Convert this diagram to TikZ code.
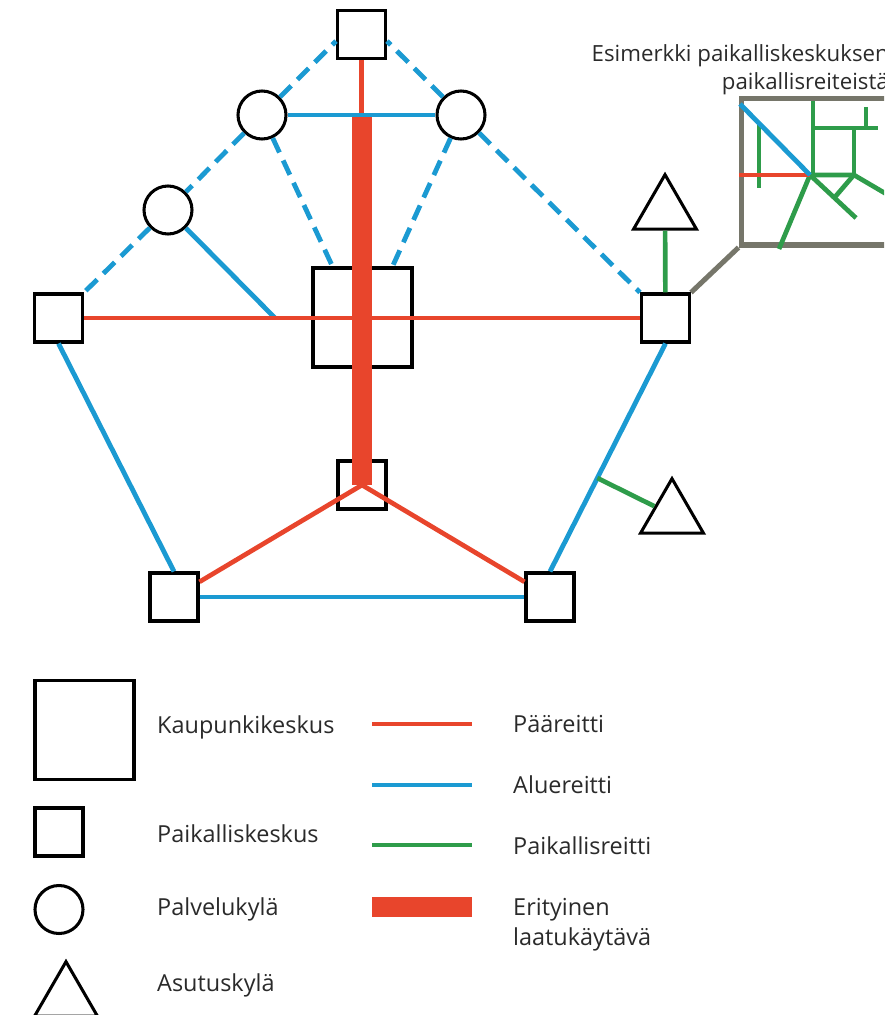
\documentclass[tikz,border=0pt]{standalone}
\usepackage{fontspec}
\setmainfont{Open Sans}
\usepackage{xcolor}
\usetikzlibrary{shapes.geometric,calc}
\definecolor{paared}{HTML}{E8452C}
\definecolor{alueblue}{HTML}{1B9AD2}
\definecolor{paikgreen}{HTML}{2E9C4A}
\definecolor{insetgray}{HTML}{76766A}
\definecolor{txtgray}{HTML}{2A2A2A}

\begin{document}
\begin{tikzpicture}[x=0.03cm, y=-0.03cm,
    citybox/.style={draw, line width=2.6pt, minimum size=2.97cm, inner sep=0pt},
    localbox/.style={draw, line width=2.6pt, minimum size=1.44cm, inner sep=0pt},
    village/.style={circle, draw, line width=2.6pt, minimum size=1.44cm, inner sep=0pt},
    hamlet/.style={regular polygon, regular polygon sides=3, draw, line width=2.6pt,
                   minimum size=2.18cm, inner sep=0pt},
    mainroute/.style={draw=paared, line width=4pt},
    arearoute/.style={draw=alueblue, line width=4.1pt},
    arealink/.style={arearoute, dash pattern=on 13.5pt off 7.5pt},
    localroute/.style={draw=paikgreen, line width=4pt},
    corridor/.style={draw=paared, line width=17pt},
    insetline/.style={draw=insetgray, line width=4.3pt},
    lbl/.style={anchor=base west, text=txtgray, inner sep=0pt,
                font=\fontsize{20}{25}\selectfont}]
\useasboundingbox (0,0) rectangle (884,1015);
\clip (0,0) rectangle (884,1015);

% centres
\node[localbox] (T) at (361.5,34.5) {};
\node[village] (L1) at (262,115) {};
\node[village] (R1) at (461,115) {};
\node[village] (L2) at (168,210) {};
\node[citybox] (C) at (362.5,317.5) {};
\node[localbox] (LS) at (58.5,318) {};
\node[localbox] (RS) at (665.5,318) {};
\node[localbox] (B) at (362,485) {};
\node[localbox] (BL) at (174,597) {};
\node[localbox] (BR) at (550,597) {};
\node[hamlet] (T1) at (665,211) {};
\node[hamlet] (T2) at (672,515) {};

\coordinate (k) at (362,115);
\coordinate (j1) at (275,318);
\coordinate (j2) at ($(RS.south)!0.59!(BR.north)$);

% routes
\draw[mainroute] (T) -- (B);
\draw[corridor] (k) -- (B.center);
\draw[arearoute] (L1) -- (R1);
\draw[arealink] (L1) -- ([yshift=-2mm]T.west);
\draw[arealink] (R1) -- ([yshift=-2mm]T.east);
\draw[arealink] (L1) -- ([xshift=-9mm]C.north);
\draw[arealink] (R1) -- ([xshift=9mm]C.north);
\draw[arealink] (L1) -- (L2);
\draw[arealink] (L2) -- (LS.north east);
\draw[arealink] (R1) -- (RS.north west);
\draw[arearoute] (L2) -- (j1);
\draw[mainroute] (LS) -- (RS);
\draw[arearoute] (LS.south) -- (BL.north);
\draw[arearoute] (RS.south) -- (BR.north);
\draw[arearoute] (BL) -- (BR);
\draw[mainroute] (BL) -- (B.center);
\draw[mainroute] (BR) -- (B.center);
\draw[localroute] (RS) -- (T1);
\draw[localroute] (j2) -- (T2);

% inset
\node[insetline, anchor=south west, minimum width=5cm, minimum height=4.38cm,
      inner sep=0pt] (inset) at (738.5,247.5) {};
\draw[insetline] (RS.north east) -- (inset.south west);
\draw[localroute] (759,125) -- (759,188);
\draw[localroute] (813,101) -- (813,175);
\draw[localroute] (813,128) -- (878,128);
\draw[localroute] (866,107) -- (866,128);
\draw[localroute] (854,128) -- (854,176);
\draw[localroute] (810,175) -- (854,175) -- (900,202);
\draw[localroute] (853,176) -- (835,197);
\draw[localroute] (810,175) -- (856,218);
\draw[localroute] (810,175) -- (779,249);
\draw[mainroute] (739,175) -- (810,175);
\draw[arearoute] (740,104) -- (810,175);
\node[anchor=base east, text=txtgray, inner sep=0pt, font=\fontsize{19}{23}\selectfont]
  (title1) at (889,62) {Esimerkki paikalliskeskuksen};
\node[anchor=base east, text=txtgray, inner sep=0pt, font=\fontsize{19}{23}\selectfont]
  (title2) at (889,90) {paikallisreiteistä};

% legend
\node[citybox] (lgcity) at (84.5,730) {};
\node[localbox] (lglocal) at (59,832) {};
\node[village] (lgvillage) at (59,909.5) {};
\node[hamlet] (lghamlet) at (66,998) {};
\node[lbl] (lgcitytxt) at (157,733) {Kaupunkikeskus};
\node[lbl] (lglocaltxt) at (157,842) {Paikalliskeskus};
\node[lbl] (lgvillagetxt) at (157,915) {Palvelukylä};
\node[lbl] (lghamlettxt) at (157,991) {Asutuskylä};
\draw[mainroute] (372,724) -- (472,724);
\draw[arearoute] (372,785) -- (472,785);
\draw[localroute] (372,845) -- (472,845);
\fill[paared] (372,897) rectangle (472,917);
\node[lbl] (lgmain) at (513,732) {Pääreitti};
\node[lbl] (lgarea) at (513,793) {Aluereitti};
\node[lbl] (lglocalr) at (513,854) {Paikallisreitti};
\node[lbl] (lgcorr1) at (513,915) {Erityinen};
\node[lbl] (lgcorr2) at (513,945) {laatukäytävä};
\end{tikzpicture}
\end{document}
